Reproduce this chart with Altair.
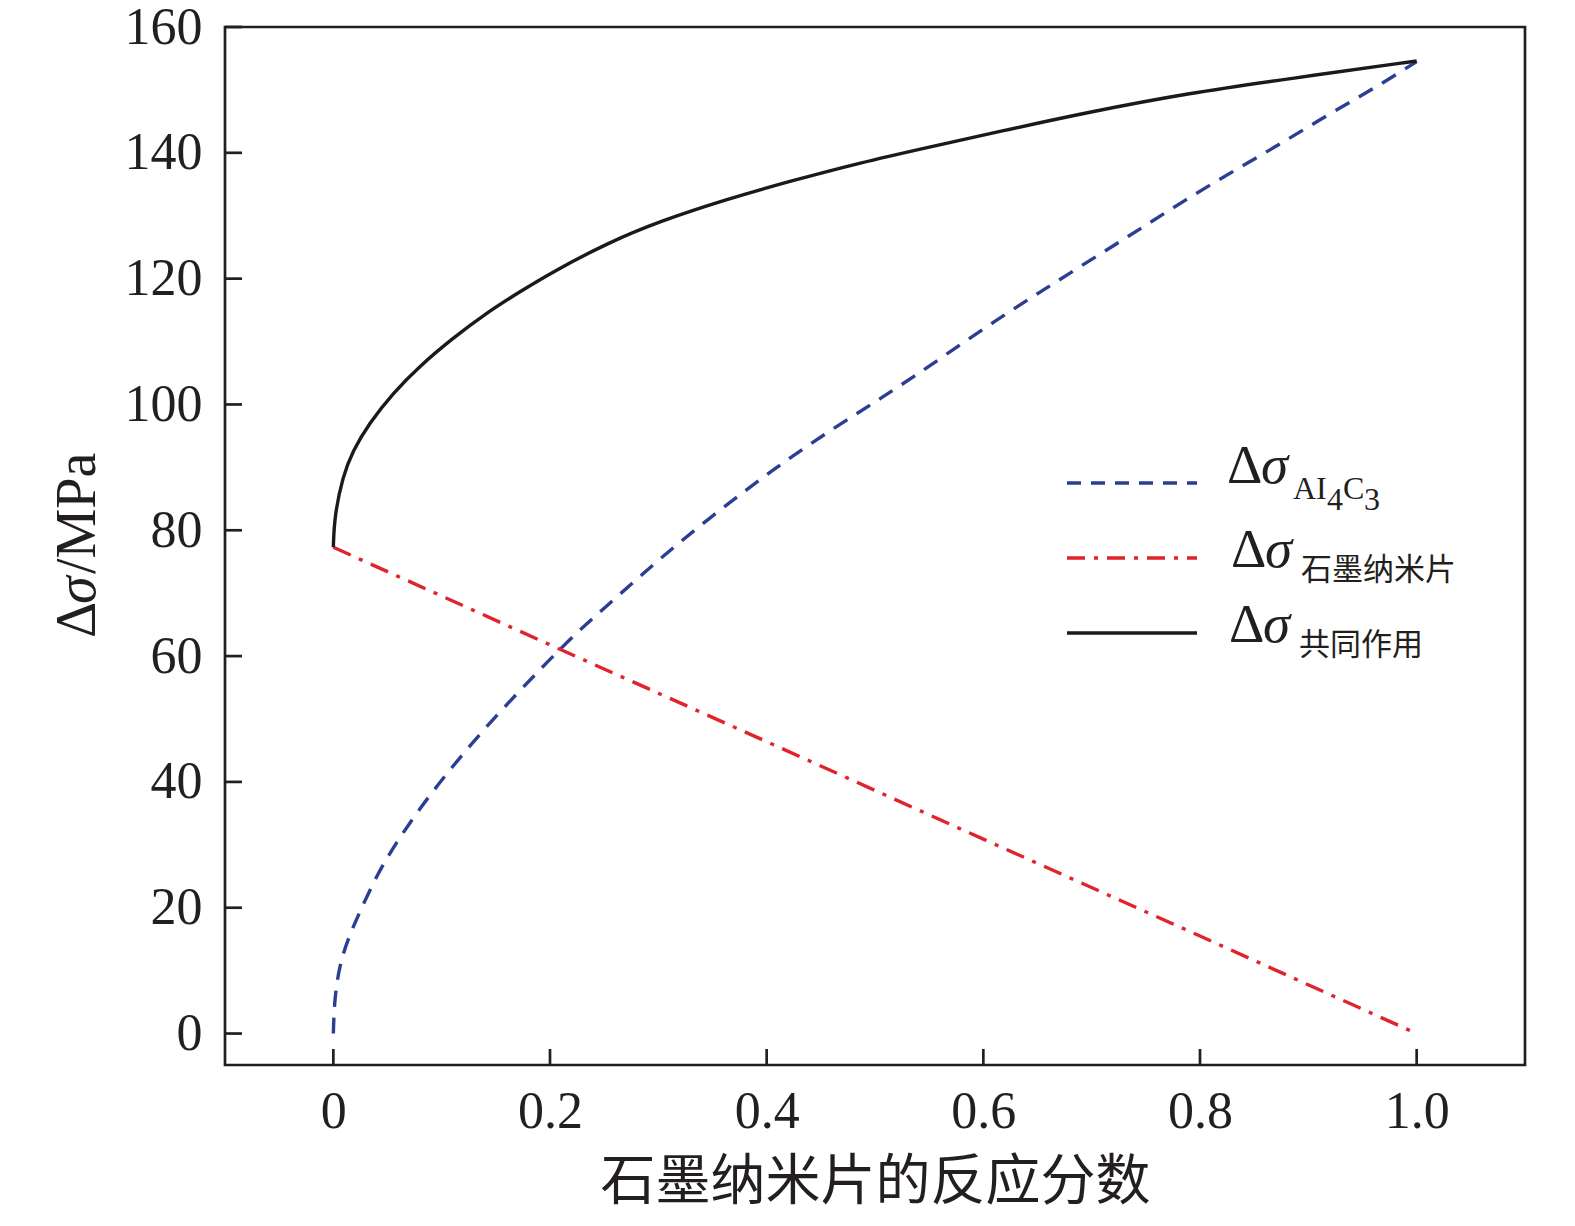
import altair as alt
import pandas as pd

# ---- data ----
blue_x = [0, 0.001, 0.0055, 0.0132, 0.024, 0.041, 0.058, 0.079, 0.104, 0.135, 0.166, 0.196,
          0.209, 0.2225, 0.261, 0.2995, 0.3395, 0.381, 0.421, 0.4635, 0.5057, 0.547, 0.615,
          0.6565, 0.701, 0.744, 0.787, 0.832, 0.876, 0.9197, 0.964, 0.989, 1.0]
blue_y = [0, 5.4, 10.7, 14.9, 19.2, 25.5, 30.3, 35.6, 41.2, 47.6, 53.4, 58.8,
          61.0, 63.4, 69.3, 75.2, 80.9, 86.4, 91.5, 96.4, 101.0, 105.7, 113.8,
          118.3, 123.2, 127.8, 132.6, 137.2, 141.6, 146.2, 150.6, 153.3, 154.5]

red_x = [0, 0.2, 0.4, 0.6, 0.8, 1.0]
red_y = [77.3, 61.8, 46.4, 30.9, 15.5, 0]

black_x = [0, 0.001, 0.0086, 0.0178, 0.033, 0.055, 0.079, 0.110, 0.141, 0.172, 0.2025,
           0.2548, 0.301, 0.3626, 0.424, 0.4857, 0.547, 0.615, 0.698, 0.790, 0.883, 1.0]
black_y = [77.3, 82.2, 88.5, 92.6, 97.0, 101.8, 106.0, 110.5, 114.5, 117.9, 121.1,
           125.8, 129.1, 132.6, 135.6, 138.4, 140.8, 143.4, 146.5, 149.5, 151.8, 154.6]

x_ticks = [0, 0.2, 0.4, 0.6, 0.8, 1.0]
y_ticks = [0, 20, 40, 60, 80, 100, 120, 140, 160]

x_title = "石墨纳米片的反应分数"
sub_al = ["AI", "4", "C", "3"]
sub_gn = "石墨纳米片"
sub_co = "共同作用"

# ---- styling ----
W, H = 1300, 1038
INK = "#231f20"
BLUE = "#2c3e94"
RED = "#e1232b"
SERIF = "Liberation Serif"
CJK = "Noto Sans CJK SC"

xs = alt.Scale(domain=[-0.1, 1.1], nice=False, zero=False)
ys = alt.Scale(domain=[-5, 160], nice=False, zero=False)

X_ENC = alt.X("x:Q", scale=xs,
              axis=alt.Axis(values=x_ticks, grid=False, ticks=False, domain=False,
                            labelExpr="datum.value == 0 ? '0' : format(datum.value, '.1f')",
                            labelFont=SERIF, labelFontSize=52, labelColor=INK,
                            labelPadding=21, title=x_title, titleFont=CJK,
                            titleFontSize=55, titleFontWeight="normal", titleColor=INK,
                            titlePadding=18))
Y_ENC = alt.Y("y:Q", scale=ys,
              axis=alt.Axis(values=y_ticks, grid=False, ticks=False, domain=False,
                            labelFont=SERIF, labelFontSize=52, labelColor=INK,
                            labelPadding=23, title=None))

one = pd.DataFrame({"d": [0]})


def series(xv, yv, color, dash=None, interp="basis"):
    df = pd.DataFrame({"x": xv, "y": yv})
    kw = dict(color=color, strokeWidth=3.4, interpolate=interp, strokeCap="butt")
    if dash is not None:
        kw["strokeDash"] = dash
    return alt.Chart(df).mark_line(**kw).encode(x=X_ENC, y=Y_ENC)


def txt(s, x, y, size, font=SERIF, style="normal", angle=0):
    kw = dict(font=font, fontSize=size, fontStyle=style, align="left",
              baseline="alphabetic", color=INK)
    if angle:
        kw["angle"] = angle
    return alt.Chart(one).mark_text(**kw).encode(
        x=alt.value(x), y=alt.value(y), text=alt.value(s))


def leg_line(y, color, dash=None):
    kw = dict(color=color, strokeWidth=3.4, strokeCap="butt")
    if dash is not None:
        kw["strokeDash"] = dash
    return alt.Chart(one).mark_rule(**kw).encode(
        x=alt.value(842), x2=alt.value(972), y=alt.value(y))


xtick = alt.Chart(pd.DataFrame({"x": x_ticks})).mark_rule(color=INK, strokeWidth=2.7).encode(
    x=X_ENC, y=alt.value(H), y2=alt.value(H - 16))
ytick = alt.Chart(pd.DataFrame({"y": y_ticks})).mark_rule(color=INK, strokeWidth=2.7).encode(
    y=Y_ENC, x=alt.value(0), x2=alt.value(17))

layers = [
    xtick, ytick,
    series(blue_x, blue_y, BLUE, [16, 11]),
    series(red_x, red_y, RED, [19, 9, 4, 9], interp="linear"),
    series(black_x, black_y, "#1a1a1a"),
    # legend
    leg_line(456, BLUE, [14, 10]),
    leg_line(531, RED, [18, 9, 4, 9]),
    leg_line(606, "#1a1a1a"),
    txt("Δ", 1002, 456, 55), txt("σ", 1036, 456, 55, style="italic"),
    txt(sub_al[0], 1068, 472, 32), txt(sub_al[1], 1102, 483, 32),
    txt(sub_al[2], 1118, 472, 32), txt(sub_al[3], 1139, 483, 32),
    txt("Δ", 1006, 540, 55), txt("σ", 1040, 540, 55, style="italic"),
    txt(sub_gn, 1076, 553, 31, font=CJK),
    txt("Δ", 1004, 615, 55), txt("σ", 1038, 615, 55, style="italic"),
    txt(sub_co, 1074, 628, 31, font=CJK),
    # y title, rotated
    txt("Δ", -130, 611, 56, angle=270),
    txt("σ", -130, 577, 56, style="italic", angle=270),
    txt("/MPa", -130, 547, 56, angle=270),
]

chart = alt.layer(*layers).properties(
    width=W, height=H,
    autosize=alt.AutoSizeParams(type="none"),
    padding={"left": 217, "top": 19, "right": 30, "bottom": 151},
    background="white",
).configure_view(stroke=INK, strokeWidth=2.7)

chart.save("out.html", embed_options={"renderer": "svg", "actions": False})
